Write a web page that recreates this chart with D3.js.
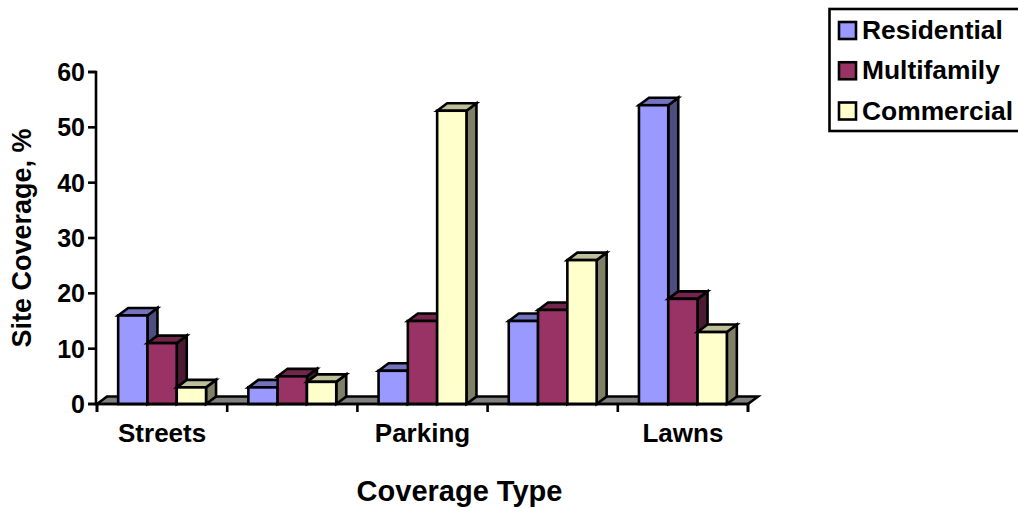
<!DOCTYPE html>
<html>
<head>
<meta charset="utf-8">
<style>
html,body{margin:0;padding:0;background:#fff;overflow:hidden;}
svg{display:block;}
text{font-family:"Liberation Sans",Arial,sans-serif;font-weight:bold;fill:#000;}
</style>
<script src="https://cdn.jsdelivr.net/npm/d3@7/dist/d3.min.js"></script>
</head>
<body>
<svg id="chart" width="1018" height="508"></svg>
<script>
// Site coverage by land-use type; the second and fourth groups carry no label
const categories = ["Streets", "", "Parking", " ", "Lawns"];
const seriesNames = ["Residential", "Multifamily", "Commercial"];
const residential = [16, 3, 6, 15, 54];
const multifamily = [11, 5, 15, 17, 19];
const commercial = [3, 4, 53, 26, 13];
const yTicks = [0, 10, 20, 30, 40, 50, 60];
const frontColors = ["#9999ff", "#993366", "#ffffcc"];
const topColors = ["#7373bf", "#73264d", "#bfbf99"];
const sideColors = ["#4d4d80", "#4d1a33", "#808066"];
const floorColor = "#808080";

const svg = d3.select("#chart");
const plot = {left: 97, right: 748, top: 72, bottom: 404};
const depth = {x: 10, y: 7.5};
const series = [residential, multifamily, commercial];
const lineWidth = 2.6;

const x = d3.scaleBand().domain(categories).range([plot.left, plot.right]).paddingInner(0.325).paddingOuter(0.1625);
const xSeries = d3.scaleBand().domain(d3.range(series.length)).range([0, x.bandwidth()]);
const xEdges = d3.scaleLinear().domain([0, categories.length]).range([plot.left, plot.right]);
const y = d3.scaleLinear().domain([0, 60]).range([plot.bottom, plot.top]);

const poly = pts => pts.map(p => p.join(",")).join(" ");
const outline = sel => sel.attr("stroke", "#000").attr("stroke-width", lineWidth).attr("stroke-linejoin", "miter");

// Floor of the 3-D plot
outline(svg.append("polygon")
  .attr("points", poly([
    [plot.left, plot.bottom],
    [plot.left + depth.x, plot.bottom - depth.y],
    [plot.right + depth.x, plot.bottom - depth.y],
    [plot.right, plot.bottom]
  ]))
  .attr("fill", floorColor));

// Bars, painted left to right so each one overlaps its neighbour's side face
const bars = svg.append("g");
categories.forEach((cat, c) => {
  series.forEach((vals, s) => {
    const x0 = x(cat) + xSeries(s);
    const w = xSeries.bandwidth();
    const yTop = y(vals[c]);
    const g = bars.append("g");
    outline(g.append("polygon")
      .attr("points", poly([
        [x0 + w, plot.bottom], [x0 + w + depth.x, plot.bottom - depth.y],
        [x0 + w + depth.x, yTop - depth.y], [x0 + w, yTop]
      ]))
      .attr("fill", sideColors[s]));
    outline(g.append("polygon")
      .attr("points", poly([
        [x0, yTop], [x0 + depth.x, yTop - depth.y],
        [x0 + w + depth.x, yTop - depth.y], [x0 + w, yTop]
      ]))
      .attr("fill", topColors[s]));
    outline(g.append("rect")
      .attr("x", x0).attr("y", yTop)
      .attr("width", w).attr("height", plot.bottom - yTop)
      .attr("fill", frontColors[s]));
  });
});

// Value axis
const yAxis = svg.append("g")
  .attr("transform", `translate(${plot.left - 1},0)`)
  .call(d3.axisLeft(y).tickValues(yTicks).tickSize(8).tickPadding(3).offset(0).tickFormat(d3.format("d")));
yAxis.selectAll("path,line").attr("stroke", "#000").attr("stroke-width", lineWidth);
yAxis.selectAll("text").style("font-size", "25px").attr("font-family", null).attr("fill", "#000").attr("dy", "0.36em");

// Category axis: tick marks sit on the band edges
const xTickAxis = svg.append("g")
  .attr("transform", `translate(0,${plot.bottom})`)
  .call(d3.axisBottom(xEdges).ticks(categories.length).tickSize(8).offset(0).tickFormat(""));
xTickAxis.selectAll("path,line").attr("stroke", "#000").attr("stroke-width", lineWidth);

// Group labels, centred under their bars
const xLabelAxis = svg.append("g")
  .attr("transform", `translate(0,${plot.bottom})`)
  .call(d3.axisBottom(x).tickSize(0).tickPadding(19.5).offset(0));
xLabelAxis.select("path").remove();
xLabelAxis.selectAll("text").style("font-size", "26px").attr("font-family", null).attr("fill", "#000");

// Axis titles
svg.append("text").attr("x", 459.5).attr("y", 500.5)
  .attr("text-anchor", "middle").style("font-size", "29px").text("Coverage Type");
svg.append("text").attr("transform", "translate(31,238) rotate(-90)")
  .attr("text-anchor", "middle").style("font-size", "27px").text("Site Coverage, %");

// Legend frame runs off the right edge of the page
svg.append("rect").attr("x", 829.5).attr("y", 9).attr("width", 200).attr("height", 122)
  .attr("fill", "#fff").attr("stroke", "#000").attr("stroke-width", lineWidth);
const legendY = d3.scalePoint().domain(seriesNames).range([30.5, 111]);
const legend = svg.append("g").selectAll("g").data(seriesNames).join("g")
  .attr("transform", d => `translate(0,${legendY(d)})`);
legend.append("rect").attr("x", 839).attr("y", -8.5).attr("width", 17).attr("height", 17)
  .attr("fill", (d, i) => frontColors[i]).attr("stroke", "#000").attr("stroke-width", lineWidth);
legend.append("text").attr("x", 862).attr("y", 8.5).style("font-size", "26.4px").text(d => d);
</script>
</body>
</html>
